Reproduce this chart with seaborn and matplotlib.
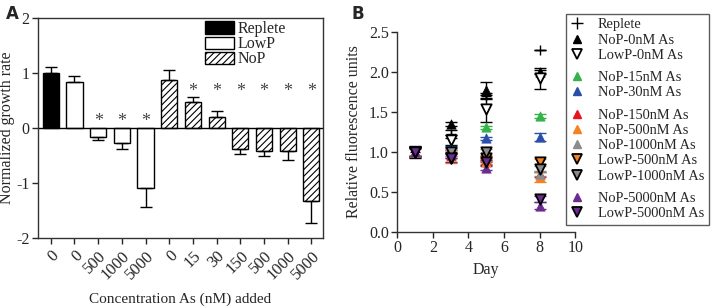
import numpy as np
import pandas as pd
import matplotlib
matplotlib.use('Agg')
import matplotlib.pyplot as plt
import seaborn as sns
from matplotlib.patches import Patch
from matplotlib.lines import Line2D

# ---- Panel A data: normalized growth rate ----
conc_labels = ['0', '0', '500', '1000', '5000', '0', '15', '30', '150', '500', '1000', '5000']
conc_groups = ['Replete', 'LowP', 'LowP', 'LowP', 'LowP',
               'NoP', 'NoP', 'NoP', 'NoP', 'NoP', 'NoP', 'NoP']
growth_mean = [1.00, 0.84, -0.16, -0.27, -1.09, 0.87, 0.48, 0.20, -0.38, -0.42, -0.41, -1.33]
growth_err = [0.11, 0.10, 0.06, 0.11, 0.35, 0.19, 0.08, 0.10, 0.09, 0.08, 0.18, 0.40]
signif = [False, False, True, True, True, False, True, True, True, True, True, True]
star_y = [0, 0, 0.12, 0.12, 0.12, 0, 0.67, 0.67, 0.67, 0.67, 0.67, 0.67]

# ---- Panel B data: relative fluorescence ----
days = [1, 3, 5, 8]
series_names = ['Replete', 'NoP-0nM As', 'LowP-0nM As', 'NoP-15nM As', 'NoP-30nM As',
                'NoP-150nM As', 'NoP-500nM As', 'NoP-1000nM As', 'LowP-500nM As',
                'LowP-1000nM As', 'NoP-5000nM As', 'LowP-5000nM As']
rfu_mean = {
    'Replete':        [1.00, 1.22, 1.70, 2.28],
    'NoP-0nM As':     [1.00, 1.35, 1.78, 2.00],
    'LowP-0nM As':    [1.00, 1.15, 1.54, 1.92],
    'NoP-15nM As':    [1.00, 1.02, 1.31, 1.45],
    'NoP-30nM As':    [1.00, 1.05, 1.17, 1.19],
    'NoP-150nM As':   [1.00, 0.98, 0.90, 0.72],
    'NoP-500nM As':   [1.00, 0.95, 0.88, 0.69],
    'NoP-1000nM As':  [1.00, 1.00, 0.92, 0.73],
    'LowP-500nM As':  [1.00, 0.92, 0.92, 0.88],
    'LowP-1000nM As': [1.00, 1.00, 1.00, 0.79],
    'NoP-5000nM As':  [1.00, 0.96, 0.80, 0.33],
    'LowP-5000nM As': [1.00, 0.93, 0.87, 0.41],
}
rfu_err = {
    'Replete':        [0.07, 0.05, 0.04, 0.00],
    'NoP-0nM As':     [0.06, 0.03, 0.10, 0.03],
    'LowP-0nM As':    [0.06, 0.06, 0.17, 0.13],
    'NoP-15nM As':    [0.05, 0.03, 0.02, 0.02],
    'NoP-30nM As':    [0.05, 0.03, 0.02, 0.05],
    'NoP-150nM As':   [0.05, 0.05, 0.03, 0.03],
    'NoP-500nM As':   [0.05, 0.08, 0.03, 0.06],
    'NoP-1000nM As':  [0.05, 0.05, 0.03, 0.03],
    'LowP-500nM As':  [0.05, 0.06, 0.03, 0.03],
    'LowP-1000nM As': [0.05, 0.05, 0.04, 0.04],
    'NoP-5000nM As':  [0.05, 0.04, 0.03, 0.04],
    'LowP-5000nM As': [0.05, 0.05, 0.03, 0.04],
}
series_color = ['black', 'black', 'white', '#33b34a', '#2b4fa8', '#e8141e', '#f58220',
                '#8c8c8c', '#f58220', '#8c8c8c', '#6a2c91', '#6a2c91']

sns.set_style('ticks')
plt.rcParams['font.family'] = ['Liberation Serif', 'DejaVu Serif']
plt.rcParams['axes.unicode_minus'] = False
plt.rcParams['hatch.linewidth'] = 0.8

fig = plt.figure(figsize=(7.12, 3.08), dpi=100)
axA = fig.add_axes([0.053, 0.227, 0.401, 0.715])
axB = fig.add_axes([0.558, 0.247, 0.250, 0.649])

# ---------------- Panel A ----------------
df_a = pd.DataFrame({'pos': [str(i) for i in range(len(conc_labels))],
                     'group': conc_groups, 'rate': growth_mean})
sns.barplot(data=df_a, x='pos', y='rate', hue='group', dodge=False, ax=axA,
            palette={'Replete': 'black', 'LowP': 'white', 'NoP': 'white'},
            edgecolor='black', linewidth=1.0, width=0.68, errorbar=None, legend=False)
# hatch NoP bars
for bar in axA.patches:
    idx = int(round(bar.get_x() + bar.get_width() / 2))
    if 0 <= idx < len(conc_groups) and conc_groups[idx] == 'NoP':
        bar.set_hatch('/////')

# one-sided error bars away from zero
pos = np.arange(len(growth_mean))
lower = [0 if m >= 0 else e for m, e in zip(growth_mean, growth_err)]
upper = [e if m >= 0 else 0 for m, e in zip(growth_mean, growth_err)]
axA.errorbar(pos, growth_mean, yerr=[lower, upper], fmt='none', ecolor='black',
             elinewidth=1.0, capsize=4, capthick=1.0)
for p, s, y in zip(pos, signif, star_y):
    if s:
        axA.text(p, y, '*', ha='center', va='center', fontsize=13, color='#444444')

axA.axhline(0, color='black', lw=1.0)
axA.set_xlim(-0.55, 11.5)
axA.set_ylim(-2, 2)
axA.set_yticks([-2, -1, 0, 1, 2])
axA.set_xticks(pos)
axA.set_xticklabels(conc_labels, rotation=45, ha='right', rotation_mode='anchor', fontsize=12)
axA.tick_params(axis='y', labelsize=11.5, length=4, width=1.0, pad=2)
axA.tick_params(axis='x', length=4, width=1.0, pad=3)
axA.set_xlabel('Concentration As (nM) added', fontsize=11, labelpad=7)
axA.set_ylabel('Normalized growth rate', fontsize=11.5)
axA.yaxis.set_label_coords(-0.08, 0.5)
for sp in axA.spines.values():
    sp.set_visible(True)
    sp.set_linewidth(1.0)
    sp.set_color('#333333')

legA_handles = [Patch(facecolor='black', edgecolor='black', label='Replete'),
                Patch(facecolor='white', edgecolor='black', label='LowP'),
                Patch(facecolor='white', edgecolor='black', hatch='/////', label='NoP')]
axA.legend(handles=legA_handles, loc='upper left', bbox_to_anchor=(0.575, 1.0),
           frameon=False, fontsize=11.5, handlelength=1.8, handleheight=0.8,
           labelspacing=-0.05, handletextpad=0.25, borderaxespad=0.0, borderpad=0.2)

# ---------------- Panel B ----------------
legB_handles = []
for name, col in zip(series_names, series_color):
    df_b = pd.DataFrame({'day': days, 'rfu': rfu_mean[name]})
    axB.errorbar(days, rfu_mean[name], yerr=rfu_err[name], fmt='none',
                 ecolor=col if col != 'white' else 'black',
                 elinewidth=1.0, capsize=4, capthick=1.0, zorder=2)
    if name == 'Replete':
        sns.scatterplot(data=df_b, x='day', y='rfu', marker='+', color='black', s=60,
                        linewidth=1.0, ax=axB, zorder=3)
        h = Line2D([], [], ls='none', marker='+', color='black', markersize=8, mew=1.0)
    elif name.startswith('NoP'):
        sns.scatterplot(data=df_b, x='day', y='rfu', marker='^', color=col, edgecolor=col,
                        s=45, linewidth=0.5, ax=axB, zorder=3)
        h = Line2D([], [], ls='none', marker='^', color=col, markeredgecolor=col, markersize=6)
    else:
        sns.scatterplot(data=df_b, x='day', y='rfu', marker='v', color=col, edgecolor='black',
                        s=55, linewidth=1.3, ax=axB, zorder=4)
        h = Line2D([], [], ls='none', marker='v', markerfacecolor=col, markeredgecolor='black',
                   markersize=6.5, mew=1.3)
    legB_handles.append(h)

axB.set_xlim(0, 10)
axB.set_ylim(0, 2.5)
axB.set_xticks([0, 2, 4, 6, 8, 10])
axB.set_yticks([0, 0.5, 1.0, 1.5, 2.0, 2.5])
axB.set_yticklabels(['0.0', '0.5', '1.0', '1.5', '2.0', '2.5'])
axB.tick_params(labelsize=11.5, length=4, width=1.0, pad=2)
axB.set_xlabel('Day', fontsize=11.5, labelpad=4)
axB.set_ylabel('Relative fluorescence units', fontsize=11.5, labelpad=5)
sns.despine(ax=axB)
for sp in ['left', 'bottom']:
    axB.spines[sp].set_linewidth(1.0)
    axB.spines[sp].set_color('#333333')

legB = fig.legend(handles=legB_handles, labels=series_names, loc='upper left',
                  bbox_to_anchor=(0.795, 0.955), fontsize=10.4, frameon=True,
                  fancybox=False, edgecolor='#333333', handlelength=0.9,
                  handletextpad=1.0, labelspacing=0.15, borderpad=0.3,
                  borderaxespad=0.0)
legB.get_frame().set_linewidth(1.0)
# extra gap before each group of entries
col_box = legB._legend_handle_box.get_children()[0]
rows = col_box.get_children()
for i in [3, 5, 10]:
    rows[i].get_children()[0].height += 5

fig.text(0.008, 0.985, 'A', fontsize=12, fontweight='bold', family='DejaVu Sans', va='top')
fig.text(0.493, 0.985, 'B', fontsize=12, fontweight='bold', family='DejaVu Sans', va='top')

fig.savefig('out.png', dpi=100)
